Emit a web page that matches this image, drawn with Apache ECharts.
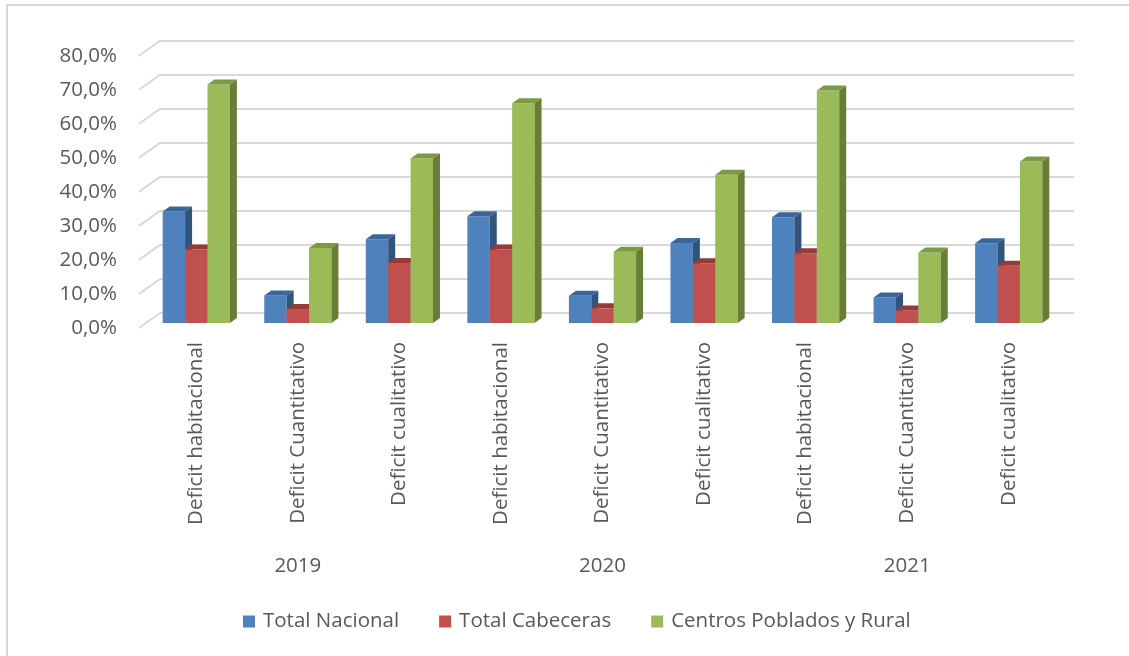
<!DOCTYPE html>
<html>
<head>
<meta charset="utf-8">
<script src="https://cdn.jsdelivr.net/npm/echarts@6/dist/echarts.min.js"></script>
<style>
html,body{margin:0;padding:0;background:#fff;}
#chart{width:1129px;height:656px;}
</style>
</head>
<body>
<div id="chart"></div>
<script>
const categories = ['Deficit habitacional','Deficit Cuantitativo','Deficit cualitativo',
                    'Deficit habitacional','Deficit Cuantitativo','Deficit cualitativo',
                    'Deficit habitacional','Deficit Cuantitativo','Deficit cualitativo'];
const years = ['2019','2020','2021'];
const seriesNames = ['Total Nacional','Total Cabeceras','Centros Poblados y Rural'];
const totalNacional = [32.7, 8.1, 24.6, 31.3, 8.0, 23.5, 31.0, 7.5, 23.4];
const totalCabeceras = [21.6, 4.1, 17.6, 21.6, 4.3, 17.5, 20.5, 3.7, 16.8];
const centrosRural = [70.0, 22.0, 48.3, 64.5, 20.9, 43.5, 68.2, 20.7, 47.4];
const yTicks = [0, 10, 20, 30, 40, 50, 60, 70, 80];

const FONT = '"Open Sans", "Liberation Sans", sans-serif';
const FS = 20.5;
const TXT = '#595959';
const GRIDC = '#D9D9D9';
const palettes = [
  {front:'#4F81BD', top:'#3C6697', side:'#30547E'},
  {front:'#C0504D', top:'#963B38', side:'#8A3330'},
  {front:'#9BBB59', top:'#7A9A43', side:'#687E36'}
];
const DX = 7, DY = 5;

function bar3D(sIdx) {
  const pal = palettes[sIdx];
  return function (params, api) {
    const ci = api.value(0), v = api.value(1);
    const p = api.coord([ci, v]);
    const b = api.coord([ci, 0]);
    const band = api.size([1, 0])[0];
    const w = band * 0.2205;
    const x0 = p[0] + (sIdx - 1.5) * w;
    const x1 = x0 + w;
    const yT = p[1], yB = b[1];
    return {
      type: 'group',
      children: [
        {type: 'rect', shape: {x: x0, y: yT, width: w, height: yB - yT}, style: {fill: pal.front}},
        {type: 'polygon', shape: {points: [[x0, yT], [x0 + DX, yT - DY], [x1 + DX, yT - DY], [x1, yT]]}, style: {fill: pal.top}},
        {type: 'polygon', shape: {points: [[x1, yT], [x1 + DX, yT - DY], [x1 + DX, yB - DY], [x1, yB]]}, style: {fill: pal.side}}
      ]
    };
  };
}

const dataSets = [totalNacional, totalCabeceras, centrosRural];
const barSeries = dataSets.map((arr, s) => ({
  name: seriesNames[s],
  type: 'custom',
  xAxisIndex: 0, yAxisIndex: 0,
  itemStyle: {color: palettes[s].front},
  renderItem: bar3D(s),
  encode: {x: 0, y: 1},
  data: arr.map((v, i) => [i, v]),
  z: 5
}));

const chart = echarts.init(document.getElementById('chart'));
chart.setOption({
  animation: false,
  backgroundColor: '#fff',
  graphic: [{
    type: 'rect', silent: true, z: -1,
    shape: {x: 7, y: 5, width: 1200, height: 800},
    style: {fill: 'none', stroke: GRIDC, lineWidth: 2}
  }],
  legend: {
    data: seriesNames,
    left: 238, top: 606,
    icon: 'rect', itemWidth: 12, itemHeight: 12, itemGap: 40,
    textStyle: {fontFamily: FONT, fontSize: FS, color: TXT, padding: [0, 0, 0, 3]}
  },
  grid: [
    {left: 145.5, top: 50.4, width: 914, height: 272.6},
    {left: 160, top: 40.7, width: 914, height: 272.3},
    {left: 139, top: 55.7, width: 10, height: 272.3}
  ],
  xAxis: [
    {gridIndex: 0, type: 'category', data: categories, position: 'bottom',
     axisLine: {show: false}, axisTick: {show: false},
     axisLabel: {interval: 0, rotate: 90, margin: 19, fontFamily: FONT, fontSize: FS, color: TXT}},
    {gridIndex: 0, type: 'category', data: years, position: 'bottom', offset: 225,
     axisLine: {show: false}, axisTick: {show: false},
     axisLabel: {interval: 0, margin: 8, fontFamily: FONT, fontSize: FS, color: TXT}},
    {gridIndex: 1, type: 'value', show: false, min: 0, max: 1},
    {gridIndex: 2, type: 'value', show: false, min: 0, max: 1}
  ],
  yAxis: [
    {gridIndex: 0, type: 'value', min: 0, max: 80, interval: 10, show: false},
    {gridIndex: 1, type: 'value', min: 0, max: 80, interval: 10,
     axisLine: {show: false}, axisTick: {show: false}, axisLabel: {show: false},
     splitLine: {show: true, lineStyle: {color: GRIDC, width: 2}}},
    {gridIndex: 2, type: 'value', min: 0, max: 80, interval: 10,
     axisLine: {show: false}, axisTick: {show: false}, splitLine: {show: false},
     axisLabel: {margin: 22, fontFamily: FONT, fontSize: FS, color: TXT,
       formatter: v => v.toFixed(1).replace('.', ',') + '%'}}
  ],
  series: [
    {
      type: 'custom', name: 'walls', silent: true,
      xAxisIndex: 3, yAxisIndex: 2,
      encode: {x: 0, y: 1},
      data: yTicks.map(v => [0, v]),
      renderItem: function (params, api) {
        const y = api.coord([0, api.value(1)])[1];
        const x = params.coordSys.x;
        return {type: 'line', shape: {x1: x, y1: y, x2: x + 21, y2: y - 15},
                style: {stroke: GRIDC, lineWidth: 2}};
      },
      z: 1
    }
  ].concat(barSeries)
});
</script>
</body>
</html>
